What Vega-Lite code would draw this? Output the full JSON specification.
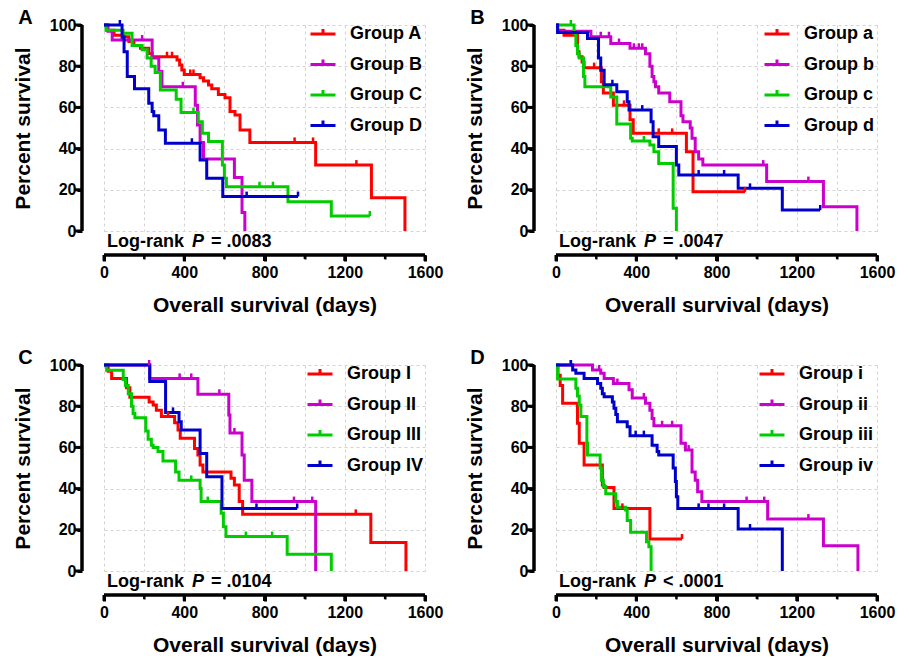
{
  "$schema": "https://vega.github.io/schema/vega-lite/v6.json",
  "background": "white",
  "padding": {"left": 12, "top": 8, "right": 5, "bottom": 5},
  "columns": 2,
  "bounds": "flush",
  "spacing": {"row": 134, "column": 131},
  "resolve": {"scale": {"color": "independent"}, "legend": {"color": "independent"}},
  "config": {
    "font": "Liberation Sans",
    "view": {"stroke": null},
    "axis": {"domain": false, "tickColor": "black", "labelColor": "black", "labelFontWeight": "bold", "labelFontSize": 16, "titleColor": "black", "titleFontWeight": "bold", "titleFontSize": 21, "grid": true, "gridColor": "#d3d3d3", "gridDash": [3, 3], "gridWidth": 1, "labelOverlap": false, "labelFlush": false},
    "legend": {"orient": "none", "title": null, "labelFontSize": 18, "labelFontWeight": "bold", "labelColor": "black", "symbolType": "M-1,0H1M0,0V-0.4", "symbolSize": 625, "symbolStrokeWidth": 3, "rowPadding": 7.5, "labelOffset": 13, "padding": 0, "legendY": -5},
    "title": {"anchor": "start", "frame": "bounds", "fontSize": 20, "fontWeight": "bold", "color": "black", "baseline": "alphabetic", "offset": -13, "dx": 6},
    "tick": {"opacity": 1, "color": "black"},
    "rect": {"color": "black", "opacity": 1}
  },
  "datasets": {
    "curves": [
      {"p":"A","g":"Group A","t":0,"s":100},{"p":"A","g":"Group A","t":15,"s":97.5},{"p":"A","g":"Group A","t":50,"s":95},{"p":"A","g":"Group A","t":99,"s":94.3},{"p":"A","g":"Group A","t":124,"s":92},{"p":"A","g":"Group A","t":149,"s":90},{"p":"A","g":"Group A","t":182,"s":88.7},{"p":"A","g":"Group A","t":223,"s":86.2},{"p":"A","g":"Group A","t":240,"s":84.6},{"p":"A","g":"Group A","t":364,"s":83},{"p":"A","g":"Group A","t":377,"s":80.6},{"p":"A","g":"Group A","t":388,"s":78.2},{"p":"A","g":"Group A","t":400,"s":76},{"p":"A","g":"Group A","t":479,"s":74.4},{"p":"A","g":"Group A","t":496,"s":72.8},{"p":"A","g":"Group A","t":521,"s":70.9},{"p":"A","g":"Group A","t":537,"s":69},{"p":"A","g":"Group A","t":570,"s":66.3},{"p":"A","g":"Group A","t":603,"s":64.7},{"p":"A","g":"Group A","t":628,"s":58},{"p":"A","g":"Group A","t":653,"s":56.3},{"p":"A","g":"Group A","t":678,"s":49},{"p":"A","g":"Group A","t":727,"s":43},{"p":"A","g":"Group A","t":1055,"s":32},{"p":"A","g":"Group A","t":1333,"s":16.2},{"p":"A","g":"Group A","t":1500,"s":0},
      {"p":"A","g":"Group B","t":0,"s":100},{"p":"A","g":"Group B","t":20,"s":97},{"p":"A","g":"Group B","t":41,"s":92.7},{"p":"A","g":"Group B","t":240,"s":84},{"p":"A","g":"Group B","t":273,"s":77.4},{"p":"A","g":"Group B","t":289,"s":70},{"p":"A","g":"Group B","t":455,"s":61},{"p":"A","g":"Group B","t":466,"s":51.5},{"p":"A","g":"Group B","t":479,"s":43},{"p":"A","g":"Group B","t":496,"s":35},{"p":"A","g":"Group B","t":650,"s":26},{"p":"A","g":"Group B","t":688,"s":9},{"p":"A","g":"Group B","t":702,"s":0},
      {"p":"A","g":"Group C","t":0,"s":100},{"p":"A","g":"Group C","t":10,"s":97.5},{"p":"A","g":"Group C","t":95,"s":96},{"p":"A","g":"Group C","t":140,"s":90},{"p":"A","g":"Group C","t":190,"s":88},{"p":"A","g":"Group C","t":215,"s":84},{"p":"A","g":"Group C","t":235,"s":80},{"p":"A","g":"Group C","t":255,"s":77},{"p":"A","g":"Group C","t":281,"s":68.5},{"p":"A","g":"Group C","t":360,"s":64},{"p":"A","g":"Group C","t":384,"s":57.5},{"p":"A","g":"Group C","t":470,"s":53},{"p":"A","g":"Group C","t":490,"s":47.4},{"p":"A","g":"Group C","t":521,"s":43.5},{"p":"A","g":"Group C","t":590,"s":32},{"p":"A","g":"Group C","t":600,"s":25.6},{"p":"A","g":"Group C","t":610,"s":21.5},{"p":"A","g":"Group C","t":917,"s":14.2},{"p":"A","g":"Group C","t":1133,"s":7.3},{"p":"A","g":"Group C","t":1325,"s":7.3},
      {"p":"A","g":"Group D","t":0,"s":100},{"p":"A","g":"Group D","t":90,"s":94},{"p":"A","g":"Group D","t":100,"s":87},{"p":"A","g":"Group D","t":116,"s":75},{"p":"A","g":"Group D","t":152,"s":69},{"p":"A","g":"Group D","t":223,"s":62},{"p":"A","g":"Group D","t":240,"s":58},{"p":"A","g":"Group D","t":248,"s":56},{"p":"A","g":"Group D","t":273,"s":49},{"p":"A","g":"Group D","t":306,"s":42.6},{"p":"A","g":"Group D","t":479,"s":34.5},{"p":"A","g":"Group D","t":512,"s":25.6},{"p":"A","g":"Group D","t":592,"s":16.7},{"p":"A","g":"Group D","t":967,"s":16.7},

      {"p":"B","g":"Group a","t":0,"s":100},{"p":"B","g":"Group a","t":8,"s":97.5},{"p":"B","g":"Group a","t":40,"s":95},{"p":"B","g":"Group a","t":107,"s":87},{"p":"B","g":"Group a","t":115,"s":84.6},{"p":"B","g":"Group a","t":130,"s":82},{"p":"B","g":"Group a","t":140,"s":79.3},{"p":"B","g":"Group a","t":226,"s":72.5},{"p":"B","g":"Group a","t":236,"s":67},{"p":"B","g":"Group a","t":286,"s":61},{"p":"B","g":"Group a","t":369,"s":54},{"p":"B","g":"Group a","t":385,"s":47.4},{"p":"B","g":"Group a","t":650,"s":38.5},{"p":"B","g":"Group a","t":683,"s":19},{"p":"B","g":"Group a","t":942,"s":19},
      {"p":"B","g":"Group b","t":0,"s":100},{"p":"B","g":"Group b","t":8,"s":97},{"p":"B","g":"Group b","t":174,"s":94.3},{"p":"B","g":"Group b","t":273,"s":91},{"p":"B","g":"Group b","t":369,"s":88.7},{"p":"B","g":"Group b","t":446,"s":86},{"p":"B","g":"Group b","t":468,"s":80},{"p":"B","g":"Group b","t":479,"s":75},{"p":"B","g":"Group b","t":488,"s":72.5},{"p":"B","g":"Group b","t":496,"s":70},{"p":"B","g":"Group b","t":512,"s":67},{"p":"B","g":"Group b","t":567,"s":62.8},{"p":"B","g":"Group b","t":623,"s":56},{"p":"B","g":"Group b","t":633,"s":53},{"p":"B","g":"Group b","t":669,"s":50},{"p":"B","g":"Group b","t":678,"s":45},{"p":"B","g":"Group b","t":694,"s":38.5},{"p":"B","g":"Group b","t":711,"s":35},{"p":"B","g":"Group b","t":732,"s":32},{"p":"B","g":"Group b","t":1050,"s":24},{"p":"B","g":"Group b","t":1333,"s":11.8},{"p":"B","g":"Group b","t":1500,"s":0},
      {"p":"B","g":"Group c","t":0,"s":100},{"p":"B","g":"Group c","t":90,"s":96},{"p":"B","g":"Group c","t":99,"s":90},{"p":"B","g":"Group c","t":107,"s":86},{"p":"B","g":"Group c","t":116,"s":84},{"p":"B","g":"Group c","t":137,"s":75},{"p":"B","g":"Group c","t":144,"s":70},{"p":"B","g":"Group c","t":273,"s":65},{"p":"B","g":"Group c","t":303,"s":52},{"p":"B","g":"Group c","t":372,"s":45},{"p":"B","g":"Group c","t":380,"s":43.7},{"p":"B","g":"Group c","t":468,"s":41.7},{"p":"B","g":"Group c","t":488,"s":38.5},{"p":"B","g":"Group c","t":512,"s":32.8},{"p":"B","g":"Group c","t":584,"s":11},{"p":"B","g":"Group c","t":600,"s":0},
      {"p":"B","g":"Group d","t":0,"s":100},{"p":"B","g":"Group d","t":8,"s":96.4},{"p":"B","g":"Group d","t":157,"s":93.5},{"p":"B","g":"Group d","t":212,"s":84},{"p":"B","g":"Group d","t":223,"s":78},{"p":"B","g":"Group d","t":240,"s":71},{"p":"B","g":"Group d","t":303,"s":67.6},{"p":"B","g":"Group d","t":355,"s":62.8},{"p":"B","g":"Group d","t":364,"s":58.7},{"p":"B","g":"Group d","t":474,"s":53},{"p":"B","g":"Group d","t":484,"s":45.8},{"p":"B","g":"Group d","t":512,"s":41},{"p":"B","g":"Group d","t":600,"s":32},{"p":"B","g":"Group d","t":612,"s":27.2},{"p":"B","g":"Group d","t":908,"s":20.7},{"p":"B","g":"Group d","t":1128,"s":10.2},{"p":"B","g":"Group d","t":1317,"s":10.2},

      {"p":"C","g":"Group I","t":0,"s":100},{"p":"C","g":"Group I","t":21,"s":97},{"p":"C","g":"Group I","t":38,"s":93.5},{"p":"C","g":"Group I","t":112,"s":89},{"p":"C","g":"Group I","t":129,"s":84.3},{"p":"C","g":"Group I","t":225,"s":82},{"p":"C","g":"Group I","t":245,"s":80.6},{"p":"C","g":"Group I","t":261,"s":78},{"p":"C","g":"Group I","t":286,"s":75},{"p":"C","g":"Group I","t":352,"s":72},{"p":"C","g":"Group I","t":369,"s":68.4},{"p":"C","g":"Group I","t":380,"s":64.4},{"p":"C","g":"Group I","t":451,"s":59.5},{"p":"C","g":"Group I","t":468,"s":56.3},{"p":"C","g":"Group I","t":479,"s":51.5},{"p":"C","g":"Group I","t":493,"s":48},{"p":"C","g":"Group I","t":633,"s":45},{"p":"C","g":"Group I","t":650,"s":41.7},{"p":"C","g":"Group I","t":674,"s":33.7},{"p":"C","g":"Group I","t":691,"s":27.5},{"p":"C","g":"Group I","t":1330,"s":13.8},{"p":"C","g":"Group I","t":1505,"s":0},
      {"p":"C","g":"Group II","t":0,"s":100},{"p":"C","g":"Group II","t":228,"s":93.5},{"p":"C","g":"Group II","t":468,"s":85.8},{"p":"C","g":"Group II","t":622,"s":75.7},{"p":"C","g":"Group II","t":628,"s":67},{"p":"C","g":"Group II","t":688,"s":56.3},{"p":"C","g":"Group II","t":699,"s":44},{"p":"C","g":"Group II","t":737,"s":33.7},{"p":"C","g":"Group II","t":1055,"s":0},
      {"p":"C","g":"Group III","t":0,"s":100},{"p":"C","g":"Group III","t":13,"s":97.5},{"p":"C","g":"Group III","t":96,"s":93},{"p":"C","g":"Group III","t":107,"s":90},{"p":"C","g":"Group III","t":121,"s":86},{"p":"C","g":"Group III","t":137,"s":80},{"p":"C","g":"Group III","t":145,"s":76.5},{"p":"C","g":"Group III","t":154,"s":74.4},{"p":"C","g":"Group III","t":208,"s":68},{"p":"C","g":"Group III","t":220,"s":64},{"p":"C","g":"Group III","t":236,"s":61},{"p":"C","g":"Group III","t":245,"s":60},{"p":"C","g":"Group III","t":269,"s":58},{"p":"C","g":"Group III","t":294,"s":53.4},{"p":"C","g":"Group III","t":357,"s":48},{"p":"C","g":"Group III","t":374,"s":44},{"p":"C","g":"Group III","t":479,"s":40},{"p":"C","g":"Group III","t":484,"s":33.7},{"p":"C","g":"Group III","t":584,"s":28},{"p":"C","g":"Group III","t":595,"s":21.5},{"p":"C","g":"Group III","t":608,"s":16.7},{"p":"C","g":"Group III","t":913,"s":8.1},{"p":"C","g":"Group III","t":1133,"s":0},
      {"p":"C","g":"Group IV","t":0,"s":100},{"p":"C","g":"Group IV","t":228,"s":92},{"p":"C","g":"Group IV","t":307,"s":77},{"p":"C","g":"Group IV","t":374,"s":72.5},{"p":"C","g":"Group IV","t":385,"s":68.4},{"p":"C","g":"Group IV","t":479,"s":57},{"p":"C","g":"Group IV","t":512,"s":45.8},{"p":"C","g":"Group IV","t":588,"s":30.4},{"p":"C","g":"Group IV","t":963,"s":30.4},

      {"p":"D","g":"Group i","t":0,"s":100},{"p":"D","g":"Group i","t":10,"s":95},{"p":"D","g":"Group i","t":21,"s":90},{"p":"D","g":"Group i","t":33,"s":81.4},{"p":"D","g":"Group i","t":107,"s":71.7},{"p":"D","g":"Group i","t":116,"s":62},{"p":"D","g":"Group i","t":140,"s":51.5},{"p":"D","g":"Group i","t":231,"s":41.7},{"p":"D","g":"Group i","t":240,"s":40.5},{"p":"D","g":"Group i","t":289,"s":30.4},{"p":"D","g":"Group i","t":468,"s":15.5},{"p":"D","g":"Group i","t":628,"s":15.5},
      {"p":"D","g":"Group ii","t":0,"s":100},{"p":"D","g":"Group ii","t":182,"s":97.6},{"p":"D","g":"Group ii","t":223,"s":96},{"p":"D","g":"Group ii","t":240,"s":93.5},{"p":"D","g":"Group ii","t":286,"s":91},{"p":"D","g":"Group ii","t":364,"s":88},{"p":"D","g":"Group ii","t":380,"s":84},{"p":"D","g":"Group ii","t":446,"s":81.4},{"p":"D","g":"Group ii","t":468,"s":78},{"p":"D","g":"Group ii","t":479,"s":74},{"p":"D","g":"Group ii","t":488,"s":70.5},{"p":"D","g":"Group ii","t":623,"s":62},{"p":"D","g":"Group ii","t":645,"s":58.7},{"p":"D","g":"Group ii","t":678,"s":48},{"p":"D","g":"Group ii","t":694,"s":44},{"p":"D","g":"Group ii","t":706,"s":38.5},{"p":"D","g":"Group ii","t":727,"s":33.7},{"p":"D","g":"Group ii","t":1055,"s":25.2},{"p":"D","g":"Group ii","t":1333,"s":12.3},{"p":"D","g":"Group ii","t":1505,"s":0},
      {"p":"D","g":"Group iii","t":0,"s":100},{"p":"D","g":"Group iii","t":8,"s":93.2},{"p":"D","g":"Group iii","t":99,"s":88.7},{"p":"D","g":"Group iii","t":107,"s":85},{"p":"D","g":"Group iii","t":116,"s":80.6},{"p":"D","g":"Group iii","t":124,"s":75},{"p":"D","g":"Group iii","t":154,"s":62},{"p":"D","g":"Group iii","t":157,"s":56.3},{"p":"D","g":"Group iii","t":220,"s":50},{"p":"D","g":"Group iii","t":226,"s":44},{"p":"D","g":"Group iii","t":236,"s":41},{"p":"D","g":"Group iii","t":248,"s":37.5},{"p":"D","g":"Group iii","t":298,"s":33.7},{"p":"D","g":"Group iii","t":306,"s":31},{"p":"D","g":"Group iii","t":347,"s":29.6},{"p":"D","g":"Group iii","t":355,"s":24.5},{"p":"D","g":"Group iii","t":372,"s":18.8},{"p":"D","g":"Group iii","t":451,"s":14.2},{"p":"D","g":"Group iii","t":463,"s":11.8},{"p":"D","g":"Group iii","t":474,"s":0},
      {"p":"D","g":"Group iv","t":0,"s":100},{"p":"D","g":"Group iv","t":83,"s":97.6},{"p":"D","g":"Group iv","t":99,"s":96},{"p":"D","g":"Group iv","t":140,"s":93.5},{"p":"D","g":"Group iv","t":207,"s":91},{"p":"D","g":"Group iv","t":223,"s":88.7},{"p":"D","g":"Group iv","t":231,"s":86},{"p":"D","g":"Group iv","t":240,"s":84.6},{"p":"D","g":"Group iv","t":281,"s":82},{"p":"D","g":"Group iv","t":289,"s":79},{"p":"D","g":"Group iv","t":298,"s":76},{"p":"D","g":"Group iv","t":306,"s":72.5},{"p":"D","g":"Group iv","t":355,"s":70},{"p":"D","g":"Group iv","t":369,"s":65.7},{"p":"D","g":"Group iv","t":479,"s":61},{"p":"D","g":"Group iv","t":504,"s":58},{"p":"D","g":"Group iv","t":512,"s":56.3},{"p":"D","g":"Group iv","t":584,"s":50},{"p":"D","g":"Group iv","t":595,"s":43.4},{"p":"D","g":"Group iv","t":600,"s":36},{"p":"D","g":"Group iv","t":607,"s":30.4},{"p":"D","g":"Group iv","t":908,"s":20.4},{"p":"D","g":"Group iv","t":1128,"s":0}
    ],
    "censors": [
      {"p":"A","g":"Group A","t":314,"s":84.6},{"p":"A","g":"Group A","t":339,"s":84.6},{"p":"A","g":"Group A","t":430,"s":76},{"p":"A","g":"Group A","t":446,"s":76},{"p":"A","g":"Group A","t":950,"s":43},{"p":"A","g":"Group A","t":1042,"s":43},{"p":"A","g":"Group A","t":1258,"s":32},
      {"p":"A","g":"Group B","t":190,"s":92.7},{"p":"A","g":"Group B","t":393,"s":70},
      {"p":"A","g":"Group C","t":446,"s":57.5},{"p":"A","g":"Group C","t":775,"s":21.5},{"p":"A","g":"Group C","t":842,"s":21.5},{"p":"A","g":"Group C","t":1325,"s":7.3},
      {"p":"A","g":"Group D","t":79,"s":100},{"p":"A","g":"Group D","t":438,"s":42.6},{"p":"A","g":"Group D","t":711,"s":16.7},{"p":"A","g":"Group D","t":967,"s":16.7},
      {"p":"B","g":"Group a","t":190,"s":79.3},{"p":"B","g":"Group a","t":339,"s":61},{"p":"B","g":"Group a","t":512,"s":47.4},{"p":"B","g":"Group a","t":579,"s":47.4},{"p":"B","g":"Group a","t":942,"s":19},
      {"p":"B","g":"Group b","t":223,"s":94.3},{"p":"B","g":"Group b","t":264,"s":94.3},{"p":"B","g":"Group b","t":314,"s":91},{"p":"B","g":"Group b","t":388,"s":88.7},{"p":"B","g":"Group b","t":413,"s":88.7},{"p":"B","g":"Group b","t":430,"s":88.7},{"p":"B","g":"Group b","t":1033,"s":32},{"p":"B","g":"Group b","t":1258,"s":24},
      {"p":"B","g":"Group c","t":74,"s":100},{"p":"B","g":"Group c","t":438,"s":43.7},
      {"p":"B","g":"Group d","t":281,"s":71},{"p":"B","g":"Group d","t":430,"s":58.7},{"p":"B","g":"Group d","t":711,"s":27.2},{"p":"B","g":"Group d","t":838,"s":27.2},{"p":"B","g":"Group d","t":967,"s":20.7},{"p":"B","g":"Group d","t":1317,"s":10.2},
      {"p":"C","g":"Group I","t":319,"s":75},{"p":"C","g":"Group I","t":1255,"s":27.5},
      {"p":"C","g":"Group II","t":225,"s":100},{"p":"C","g":"Group II","t":377,"s":93.5},{"p":"C","g":"Group II","t":435,"s":93.5},{"p":"C","g":"Group II","t":575,"s":85.8},{"p":"C","g":"Group II","t":650,"s":67},{"p":"C","g":"Group II","t":947,"s":33.7},{"p":"C","g":"Group II","t":1038,"s":33.7},
      {"p":"C","g":"Group III","t":435,"s":44},{"p":"C","g":"Group III","t":517,"s":33.7},{"p":"C","g":"Group III","t":707,"s":16.7},{"p":"C","g":"Group III","t":838,"s":16.7},
      {"p":"C","g":"Group IV","t":344,"s":77},{"p":"C","g":"Group IV","t":760,"s":30.4},{"p":"C","g":"Group IV","t":963,"s":30.4},
      {"p":"D","g":"Group i","t":331,"s":30.4},{"p":"D","g":"Group i","t":628,"s":15.5},
      {"p":"D","g":"Group ii","t":74,"s":100},{"p":"D","g":"Group ii","t":215,"s":97.6},{"p":"D","g":"Group ii","t":306,"s":91},{"p":"D","g":"Group ii","t":438,"s":84},{"p":"D","g":"Group ii","t":529,"s":70.5},{"p":"D","g":"Group ii","t":579,"s":70.5},{"p":"D","g":"Group ii","t":661,"s":58.7},{"p":"D","g":"Group ii","t":950,"s":33.7},{"p":"D","g":"Group ii","t":1038,"s":33.7},{"p":"D","g":"Group ii","t":1258,"s":25.2},
      {"p":"D","g":"Group iv","t":74,"s":100},{"p":"D","g":"Group iv","t":397,"s":65.7},{"p":"D","g":"Group iv","t":438,"s":65.7},{"p":"D","g":"Group iv","t":711,"s":30.4},{"p":"D","g":"Group iv","t":760,"s":30.4},{"p":"D","g":"Group iv","t":838,"s":30.4},{"p":"D","g":"Group iv","t":967,"s":20.4}
    ],
    "notes": [
      {"p":"A","a":"Log-rank","b":"P","c":"= .0083"},
      {"p":"B","a":"Log-rank","b":"P","c":"= .0047"},
      {"p":"C","a":"Log-rank","b":"P","c":"= .0104"},
      {"p":"D","a":"Log-rank","b":"P","c":"< .0001"}
    ],
    "xmaj": [{"v":0},{"v":400},{"v":800},{"v":1200},{"v":1600}],
    "xmin": [{"v":200},{"v":600},{"v":1000},{"v":1400}],
    "ytk": [{"v":0},{"v":20},{"v":40},{"v":60},{"v":80},{"v":100}],
    "xends": [{"v":0},{"v":1600}],
    "yends": [{"v":0},{"v":100}],
    "one": [{"k":1}]
  },
  "concat": [
    {
      "width": 321, "height": 206,
      "title": {"text": "A"},
      "layer": [
        {"data": {"name": "curves"}, "transform": [{"filter": "datum.p === 'A'"}],
         "mark": {"type": "line", "interpolate": "step-after", "strokeWidth": 3},
         "encoding": {
           "x": {"field": "t", "type": "quantitative", "scale": {"domain": [0, 1600], "nice": false, "zero": false},
                 "axis": {"values": [0,200,400,600,800,1000,1200,1400,1600], "format": "d", "offset": 24, "labelExpr": "datum.value % 400 === 0 ? datum.label : ''", "tickWidth": {"condition": {"test": "datum.value % 400 === 0", "value": 3}, "value": 2}, "tickSize": {"condition": {"test": "datum.value % 400 === 0", "value": 6}, "value": 4}, "labelPadding": 3, "title": "Overall survival (days)", "titlePadding": 14}},
           "y": {"field": "s", "type": "quantitative", "scale": {"domain": [0, 100], "nice": false, "zero": false},
                 "axis": {"values": [0,20,40,60,80,100], "offset": 22, "tickWidth": 3, "tickSize": 5, "labelPadding": 1, "title": "Percent survival", "titlePadding": 16}},
           "color": {"field": "g", "type": "nominal", "scale": {"domain": ["Group A","Group B","Group C","Group D"], "range": ["#ff0000","#cc00cc","#00cc00","#0000cc"]}, "legend": {"legendX": 205}}
         }},
        {"data": {"name": "censors"}, "transform": [{"filter": "datum.p === 'A'"}],
         "mark": {"type": "point", "shape": "M0,0V-1", "size": 100, "filled": false, "strokeWidth": 2.5, "opacity": 1},
         "encoding": {"x": {"field": "t", "type": "quantitative"}, "y": {"field": "s", "type": "quantitative"}, "color": {"field": "g", "type": "nominal"}}},
        {"data": {"name": "xends"}, "mark": {"type": "line", "color": "black", "strokeWidth": 3},
         "encoding": {"x": {"field": "v", "type": "quantitative"}, "y": {"datum": -11.65, "type": "quantitative"}}},
        {"data": {"name": "yends"}, "mark": {"type": "line", "color": "black", "strokeWidth": 3, "orient": "vertical"},
         "encoding": {"y": {"field": "v", "type": "quantitative"}, "x": {"datum": -109.7, "type": "quantitative"}}},
        {"data": {"name": "one"}, "mark": {"type": "rect"},
         "encoding": {"x": {"datum": 0, "type": "quantitative"}, "x2": {"datum": 1600}, "y": {"datum": -10.92, "type": "quantitative"}, "y2": {"datum": -12.38}}},
        {"data": {"name": "one"}, "mark": {"type": "rect"},
         "encoding": {"x": {"datum": -117.2, "type": "quantitative"}, "x2": {"datum": -102.2}, "y": {"datum": 0, "type": "quantitative"}, "y2": {"datum": 100}}},
        {"data": {"name": "xmaj"}, "mark": {"type": "tick", "orient": "vertical", "size": 6, "thickness": 3},
         "encoding": {"x": {"field": "v", "type": "quantitative"}, "y": {"datum": -13.1, "type": "quantitative"}}},
        {"data": {"name": "xmin"}, "mark": {"type": "tick", "orient": "vertical", "size": 4, "thickness": 2},
         "encoding": {"x": {"field": "v", "type": "quantitative"}, "y": {"datum": -12.6, "type": "quantitative"}}},
        {"data": {"name": "ytk"}, "mark": {"type": "tick", "orient": "horizontal", "size": 6, "thickness": 3},
         "encoding": {"x": {"datum": -129.6, "type": "quantitative"}, "y": {"field": "v", "type": "quantitative"}}},
        {"data": {"name": "notes"}, "transform": [{"filter": "datum.p === 'A'"}],
         "mark": {"type": "text", "align": "left", "baseline": "alphabetic", "fontSize": 18, "fontWeight": "bold", "color": "black", "dx": 3},
         "encoding": {"x": {"datum": 0, "type": "quantitative"}, "y": {"datum": -8, "type": "quantitative"}, "text": {"field": "a"}}},
        {"data": {"name": "notes"}, "transform": [{"filter": "datum.p === 'A'"}],
         "mark": {"type": "text", "align": "left", "baseline": "alphabetic", "fontSize": 18, "fontWeight": "bold", "fontStyle": "italic", "color": "black", "dx": 88},
         "encoding": {"x": {"datum": 0, "type": "quantitative"}, "y": {"datum": -8, "type": "quantitative"}, "text": {"field": "b"}}},
        {"data": {"name": "notes"}, "transform": [{"filter": "datum.p === 'A'"}],
         "mark": {"type": "text", "align": "left", "baseline": "alphabetic", "fontSize": 18, "fontWeight": "bold", "color": "black", "dx": 107},
         "encoding": {"x": {"datum": 0, "type": "quantitative"}, "y": {"datum": -8, "type": "quantitative"}, "text": {"field": "c"}}}
      ]
    },
    {
      "width": 321, "height": 206,
      "title": {"text": "B"},
      "layer": [
        {"data": {"name": "curves"}, "transform": [{"filter": "datum.p === 'B'"}],
         "mark": {"type": "line", "interpolate": "step-after", "strokeWidth": 3},
         "encoding": {
           "x": {"field": "t", "type": "quantitative", "scale": {"domain": [0, 1600], "nice": false, "zero": false},
                 "axis": {"values": [0,200,400,600,800,1000,1200,1400,1600], "format": "d", "offset": 24, "labelExpr": "datum.value % 400 === 0 ? datum.label : ''", "tickWidth": {"condition": {"test": "datum.value % 400 === 0", "value": 3}, "value": 2}, "tickSize": {"condition": {"test": "datum.value % 400 === 0", "value": 6}, "value": 4}, "labelPadding": 3, "title": "Overall survival (days)", "titlePadding": 14}},
           "y": {"field": "s", "type": "quantitative", "scale": {"domain": [0, 100], "nice": false, "zero": false},
                 "axis": {"values": [0,20,40,60,80,100], "offset": 22, "tickWidth": 3, "tickSize": 5, "labelPadding": 1, "title": "Percent survival", "titlePadding": 16}},
           "color": {"field": "g", "type": "nominal", "scale": {"domain": ["Group a","Group b","Group c","Group d"], "range": ["#ff0000","#cc00cc","#00cc00","#0000cc"]}, "legend": {"legendX": 207}}
         }},
        {"data": {"name": "censors"}, "transform": [{"filter": "datum.p === 'B'"}],
         "mark": {"type": "point", "shape": "M0,0V-1", "size": 100, "filled": false, "strokeWidth": 2.5, "opacity": 1},
         "encoding": {"x": {"field": "t", "type": "quantitative"}, "y": {"field": "s", "type": "quantitative"}, "color": {"field": "g", "type": "nominal"}}},
        {"data": {"name": "xends"}, "mark": {"type": "line", "color": "black", "strokeWidth": 3},
         "encoding": {"x": {"field": "v", "type": "quantitative"}, "y": {"datum": -11.65, "type": "quantitative"}}},
        {"data": {"name": "yends"}, "mark": {"type": "line", "color": "black", "strokeWidth": 3, "orient": "vertical"},
         "encoding": {"y": {"field": "v", "type": "quantitative"}, "x": {"datum": -109.7, "type": "quantitative"}}},
        {"data": {"name": "one"}, "mark": {"type": "rect"},
         "encoding": {"x": {"datum": 0, "type": "quantitative"}, "x2": {"datum": 1600}, "y": {"datum": -10.92, "type": "quantitative"}, "y2": {"datum": -12.38}}},
        {"data": {"name": "one"}, "mark": {"type": "rect"},
         "encoding": {"x": {"datum": -117.2, "type": "quantitative"}, "x2": {"datum": -102.2}, "y": {"datum": 0, "type": "quantitative"}, "y2": {"datum": 100}}},
        {"data": {"name": "xmaj"}, "mark": {"type": "tick", "orient": "vertical", "size": 6, "thickness": 3},
         "encoding": {"x": {"field": "v", "type": "quantitative"}, "y": {"datum": -13.1, "type": "quantitative"}}},
        {"data": {"name": "xmin"}, "mark": {"type": "tick", "orient": "vertical", "size": 4, "thickness": 2},
         "encoding": {"x": {"field": "v", "type": "quantitative"}, "y": {"datum": -12.6, "type": "quantitative"}}},
        {"data": {"name": "ytk"}, "mark": {"type": "tick", "orient": "horizontal", "size": 6, "thickness": 3},
         "encoding": {"x": {"datum": -129.6, "type": "quantitative"}, "y": {"field": "v", "type": "quantitative"}}},
        {"data": {"name": "notes"}, "transform": [{"filter": "datum.p === 'B'"}],
         "mark": {"type": "text", "align": "left", "baseline": "alphabetic", "fontSize": 18, "fontWeight": "bold", "color": "black", "dx": 3},
         "encoding": {"x": {"datum": 0, "type": "quantitative"}, "y": {"datum": -8, "type": "quantitative"}, "text": {"field": "a"}}},
        {"data": {"name": "notes"}, "transform": [{"filter": "datum.p === 'B'"}],
         "mark": {"type": "text", "align": "left", "baseline": "alphabetic", "fontSize": 18, "fontWeight": "bold", "fontStyle": "italic", "color": "black", "dx": 88},
         "encoding": {"x": {"datum": 0, "type": "quantitative"}, "y": {"datum": -8, "type": "quantitative"}, "text": {"field": "b"}}},
        {"data": {"name": "notes"}, "transform": [{"filter": "datum.p === 'B'"}],
         "mark": {"type": "text", "align": "left", "baseline": "alphabetic", "fontSize": 18, "fontWeight": "bold", "color": "black", "dx": 107},
         "encoding": {"x": {"datum": 0, "type": "quantitative"}, "y": {"datum": -8, "type": "quantitative"}, "text": {"field": "c"}}}
      ]
    },
    {
      "width": 321, "height": 206,
      "title": {"text": "C"},
      "layer": [
        {"data": {"name": "curves"}, "transform": [{"filter": "datum.p === 'C'"}],
         "mark": {"type": "line", "interpolate": "step-after", "strokeWidth": 3},
         "encoding": {
           "x": {"field": "t", "type": "quantitative", "scale": {"domain": [0, 1600], "nice": false, "zero": false},
                 "axis": {"values": [0,200,400,600,800,1000,1200,1400,1600], "format": "d", "offset": 24, "labelExpr": "datum.value % 400 === 0 ? datum.label : ''", "tickWidth": {"condition": {"test": "datum.value % 400 === 0", "value": 3}, "value": 2}, "tickSize": {"condition": {"test": "datum.value % 400 === 0", "value": 6}, "value": 4}, "labelPadding": 3, "title": "Overall survival (days)", "titlePadding": 14}},
           "y": {"field": "s", "type": "quantitative", "scale": {"domain": [0, 100], "nice": false, "zero": false},
                 "axis": {"values": [0,20,40,60,80,100], "offset": 22, "tickWidth": 3, "tickSize": 5, "labelPadding": 1, "title": "Percent survival", "titlePadding": 16}},
           "color": {"field": "g", "type": "nominal", "scale": {"domain": ["Group I","Group II","Group III","Group IV"], "range": ["#ff0000","#cc00cc","#00cc00","#0000cc"]}, "legend": {"legendX": 202}}
         }},
        {"data": {"name": "censors"}, "transform": [{"filter": "datum.p === 'C'"}],
         "mark": {"type": "point", "shape": "M0,0V-1", "size": 100, "filled": false, "strokeWidth": 2.5, "opacity": 1},
         "encoding": {"x": {"field": "t", "type": "quantitative"}, "y": {"field": "s", "type": "quantitative"}, "color": {"field": "g", "type": "nominal"}}},
        {"data": {"name": "xends"}, "mark": {"type": "line", "color": "black", "strokeWidth": 3},
         "encoding": {"x": {"field": "v", "type": "quantitative"}, "y": {"datum": -11.65, "type": "quantitative"}}},
        {"data": {"name": "yends"}, "mark": {"type": "line", "color": "black", "strokeWidth": 3, "orient": "vertical"},
         "encoding": {"y": {"field": "v", "type": "quantitative"}, "x": {"datum": -109.7, "type": "quantitative"}}},
        {"data": {"name": "one"}, "mark": {"type": "rect"},
         "encoding": {"x": {"datum": 0, "type": "quantitative"}, "x2": {"datum": 1600}, "y": {"datum": -10.92, "type": "quantitative"}, "y2": {"datum": -12.38}}},
        {"data": {"name": "one"}, "mark": {"type": "rect"},
         "encoding": {"x": {"datum": -117.2, "type": "quantitative"}, "x2": {"datum": -102.2}, "y": {"datum": 0, "type": "quantitative"}, "y2": {"datum": 100}}},
        {"data": {"name": "xmaj"}, "mark": {"type": "tick", "orient": "vertical", "size": 6, "thickness": 3},
         "encoding": {"x": {"field": "v", "type": "quantitative"}, "y": {"datum": -13.1, "type": "quantitative"}}},
        {"data": {"name": "xmin"}, "mark": {"type": "tick", "orient": "vertical", "size": 4, "thickness": 2},
         "encoding": {"x": {"field": "v", "type": "quantitative"}, "y": {"datum": -12.6, "type": "quantitative"}}},
        {"data": {"name": "ytk"}, "mark": {"type": "tick", "orient": "horizontal", "size": 6, "thickness": 3},
         "encoding": {"x": {"datum": -129.6, "type": "quantitative"}, "y": {"field": "v", "type": "quantitative"}}},
        {"data": {"name": "notes"}, "transform": [{"filter": "datum.p === 'C'"}],
         "mark": {"type": "text", "align": "left", "baseline": "alphabetic", "fontSize": 18, "fontWeight": "bold", "color": "black", "dx": 3},
         "encoding": {"x": {"datum": 0, "type": "quantitative"}, "y": {"datum": -8, "type": "quantitative"}, "text": {"field": "a"}}},
        {"data": {"name": "notes"}, "transform": [{"filter": "datum.p === 'C'"}],
         "mark": {"type": "text", "align": "left", "baseline": "alphabetic", "fontSize": 18, "fontWeight": "bold", "fontStyle": "italic", "color": "black", "dx": 88},
         "encoding": {"x": {"datum": 0, "type": "quantitative"}, "y": {"datum": -8, "type": "quantitative"}, "text": {"field": "b"}}},
        {"data": {"name": "notes"}, "transform": [{"filter": "datum.p === 'C'"}],
         "mark": {"type": "text", "align": "left", "baseline": "alphabetic", "fontSize": 18, "fontWeight": "bold", "color": "black", "dx": 107},
         "encoding": {"x": {"datum": 0, "type": "quantitative"}, "y": {"datum": -8, "type": "quantitative"}, "text": {"field": "c"}}}
      ]
    },
    {
      "width": 321, "height": 206,
      "title": {"text": "D"},
      "layer": [
        {"data": {"name": "curves"}, "transform": [{"filter": "datum.p === 'D'"}],
         "mark": {"type": "line", "interpolate": "step-after", "strokeWidth": 3},
         "encoding": {
           "x": {"field": "t", "type": "quantitative", "scale": {"domain": [0, 1600], "nice": false, "zero": false},
                 "axis": {"values": [0,200,400,600,800,1000,1200,1400,1600], "format": "d", "offset": 24, "labelExpr": "datum.value % 400 === 0 ? datum.label : ''", "tickWidth": {"condition": {"test": "datum.value % 400 === 0", "value": 3}, "value": 2}, "tickSize": {"condition": {"test": "datum.value % 400 === 0", "value": 6}, "value": 4}, "labelPadding": 3, "title": "Overall survival (days)", "titlePadding": 14}},
           "y": {"field": "s", "type": "quantitative", "scale": {"domain": [0, 100], "nice": false, "zero": false},
                 "axis": {"values": [0,20,40,60,80,100], "offset": 22, "tickWidth": 3, "tickSize": 5, "labelPadding": 1, "title": "Percent survival", "titlePadding": 16}},
           "color": {"field": "g", "type": "nominal", "scale": {"domain": ["Group i","Group ii","Group iii","Group iv"], "range": ["#ff0000","#cc00cc","#00cc00","#0000cc"]}, "legend": {"legendX": 202}}
         }},
        {"data": {"name": "censors"}, "transform": [{"filter": "datum.p === 'D'"}],
         "mark": {"type": "point", "shape": "M0,0V-1", "size": 100, "filled": false, "strokeWidth": 2.5, "opacity": 1},
         "encoding": {"x": {"field": "t", "type": "quantitative"}, "y": {"field": "s", "type": "quantitative"}, "color": {"field": "g", "type": "nominal"}}},
        {"data": {"name": "xends"}, "mark": {"type": "line", "color": "black", "strokeWidth": 3},
         "encoding": {"x": {"field": "v", "type": "quantitative"}, "y": {"datum": -11.65, "type": "quantitative"}}},
        {"data": {"name": "yends"}, "mark": {"type": "line", "color": "black", "strokeWidth": 3, "orient": "vertical"},
         "encoding": {"y": {"field": "v", "type": "quantitative"}, "x": {"datum": -109.7, "type": "quantitative"}}},
        {"data": {"name": "one"}, "mark": {"type": "rect"},
         "encoding": {"x": {"datum": 0, "type": "quantitative"}, "x2": {"datum": 1600}, "y": {"datum": -10.92, "type": "quantitative"}, "y2": {"datum": -12.38}}},
        {"data": {"name": "one"}, "mark": {"type": "rect"},
         "encoding": {"x": {"datum": -117.2, "type": "quantitative"}, "x2": {"datum": -102.2}, "y": {"datum": 0, "type": "quantitative"}, "y2": {"datum": 100}}},
        {"data": {"name": "xmaj"}, "mark": {"type": "tick", "orient": "vertical", "size": 6, "thickness": 3},
         "encoding": {"x": {"field": "v", "type": "quantitative"}, "y": {"datum": -13.1, "type": "quantitative"}}},
        {"data": {"name": "xmin"}, "mark": {"type": "tick", "orient": "vertical", "size": 4, "thickness": 2},
         "encoding": {"x": {"field": "v", "type": "quantitative"}, "y": {"datum": -12.6, "type": "quantitative"}}},
        {"data": {"name": "ytk"}, "mark": {"type": "tick", "orient": "horizontal", "size": 6, "thickness": 3},
         "encoding": {"x": {"datum": -129.6, "type": "quantitative"}, "y": {"field": "v", "type": "quantitative"}}},
        {"data": {"name": "notes"}, "transform": [{"filter": "datum.p === 'D'"}],
         "mark": {"type": "text", "align": "left", "baseline": "alphabetic", "fontSize": 18, "fontWeight": "bold", "color": "black", "dx": 3},
         "encoding": {"x": {"datum": 0, "type": "quantitative"}, "y": {"datum": -8, "type": "quantitative"}, "text": {"field": "a"}}},
        {"data": {"name": "notes"}, "transform": [{"filter": "datum.p === 'D'"}],
         "mark": {"type": "text", "align": "left", "baseline": "alphabetic", "fontSize": 18, "fontWeight": "bold", "fontStyle": "italic", "color": "black", "dx": 88},
         "encoding": {"x": {"datum": 0, "type": "quantitative"}, "y": {"datum": -8, "type": "quantitative"}, "text": {"field": "b"}}},
        {"data": {"name": "notes"}, "transform": [{"filter": "datum.p === 'D'"}],
         "mark": {"type": "text", "align": "left", "baseline": "alphabetic", "fontSize": 18, "fontWeight": "bold", "color": "black", "dx": 107},
         "encoding": {"x": {"datum": 0, "type": "quantitative"}, "y": {"datum": -8, "type": "quantitative"}, "text": {"field": "c"}}}
      ]
    }
  ]
}
